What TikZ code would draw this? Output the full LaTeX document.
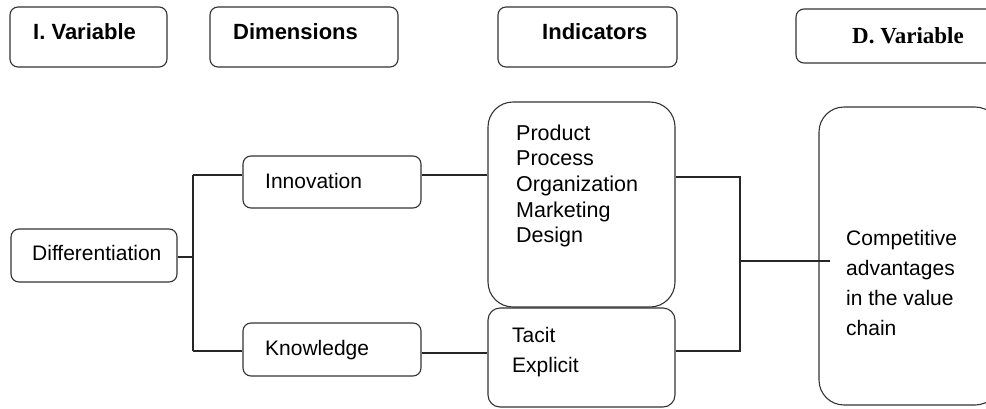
\documentclass[tikz,border=0pt]{standalone}
\usepackage{fontspec}
\setmainfont{Liberation Sans}
\newfontfamily\dserif{Liberation Serif}
\begin{document}
\begin{tikzpicture}[x=1pt,y=-1pt,
  box/.style={draw=black!80, line width=1.1pt, rounded corners=8pt, inner sep=0pt},
  bigbox/.style={box, rounded corners=25pt},
  midbox/.style={box, rounded corners=12pt},
  head/.style={anchor=base west, inner sep=0pt, font=\fontsize{22}{26}\selectfont\bfseries},
  txt/.style={anchor=base west, inner sep=0pt, font=\fontsize{21}{25}\selectfont},
  multi/.style={anchor=north west, inner sep=0pt, align=left},
  link/.style={draw=black!85, line width=1.1pt}]
\useasboundingbox (0,0) rectangle (986,408);
% header boxes
\node[box, minimum width=157pt, minimum height=60pt] (iv) at (88.5,37) {};
\node[box, minimum width=188pt, minimum height=60pt] (dim) at (304,37) {};
\node[box, minimum width=179pt, minimum height=60pt] (ind) at (587.5,37) {};
\node[box, minimum width=204pt, minimum height=54pt] (dv) at (898,36) {};
\node[head] (tiv) at (33,39) {I. Variable};
\node[head] (tdim) at (233,39) {Dimensions};
\node[head] (tind) at (542,39) {Indicators};
\node[anchor=base west, inner sep=0pt, font=\fontsize{23}{27}\selectfont\dserif\bfseries] (tdv) at (852,43) {D. Variable};
% main boxes
\node[box, minimum width=166pt, minimum height=53pt] (diff) at (94,255.5) {};
\node[box, minimum width=178pt, minimum height=52pt] (inn) at (332,182) {};
\node[box, minimum width=178pt, minimum height=53pt] (know) at (332,349.5) {};
\node[bigbox, minimum width=187pt, minimum height=205pt] (ibig) at (581.5,204.5) {};
\node[midbox, minimum width=187pt, minimum height=99pt] (tac) at (581.5,357.5) {};
\node[bigbox, minimum width=181pt, minimum height=298pt] (comp) at (909.5,256) {};
\node[txt] (tdiff) at (32,260) {Differentiation};
\node[txt] (tinn) at (265,188) {Innovation};
\node[txt] (tknow) at (265,355) {Knowledge};
\node[multi, font=\fontsize{21.5}{25.6}\selectfont] (tprod) at (516,124.5) {Product\\Process\\Organization\\Marketing\\Design};
\node[multi, font=\fontsize{21}{30}\selectfont] (ttac) at (512,327) {Tacit\\Explicit};
\node[multi, font=\fontsize{21}{30}\selectfont] (tcomp) at (846,229.7) {Competitive\\advantages\\in the value\\chain};
% connectors
\coordinate (j1) at (193,175);
\coordinate (j2) at (193,351);
\coordinate (k1) at (430,353);
\coordinate (j3) at (740,177);
\coordinate (j4) at (740,351);
\coordinate (j5) at (740,261);
\coordinate (j6) at (830,261);
\draw[link] (diff.east |- 0,257) -- (193,257);
\draw[link] (j1) -- (j2);
\draw[link] (j1) -- (j1 -| inn.west);
\draw[link] (j2) -- (j2 -| know.west);
\draw[link] (j1 -| inn.east) -- (j1 -| ibig.west);
\draw[link] (k1 -| know.east) -- (k1 -| tac.west);
\draw[link] (j3 -| ibig.east) -- (j3) -- (j4) -- (j4 -| tac.east);
\draw[link] (j5) -- (j6);
\end{tikzpicture}
\end{document}
